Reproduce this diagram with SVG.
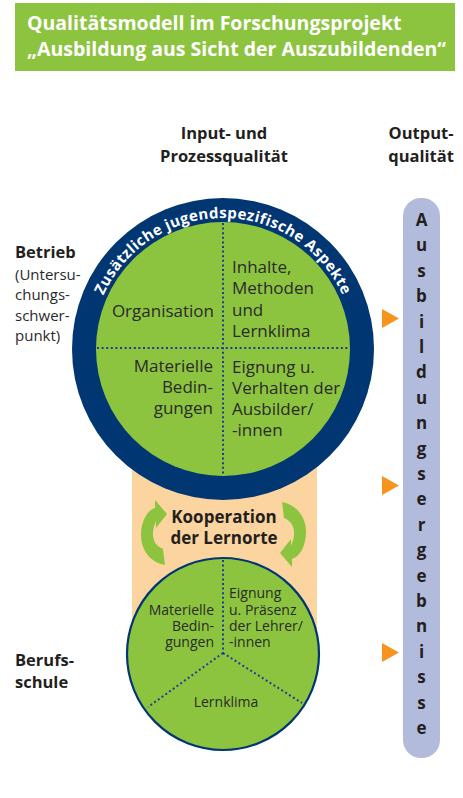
<svg xmlns="http://www.w3.org/2000/svg" width="463" height="798" viewBox="0 0 463 798">
<style>
.t{font-family:"Open Sans","Noto Sans","Liberation Sans",sans-serif;fill:#2a2a2a}
.b{font-weight:bold;fill:#231f20}
.big{font-size:17px}
.sm{font-size:14px}
.dot{stroke:#1d3f8f;stroke-width:2;stroke-dasharray:2 2.6;fill:none}
.grn{fill:#8cc43f}
.nav{fill:#003672}
.out{font-family:"Open Sans","Noto Sans","Liberation Sans",sans-serif;font-weight:bold;font-size:17px;fill:#231f20;text-anchor:middle}
.tri{fill:#f7941d}
</style>
<defs>
<path id="arcTxt" d="M 104.3 293.6 A 131 131 0 0 1 341.7 293.6"/>
</defs>

<g id="title">
<rect x="15" y="3" width="440" height="68" class="grn"/>
<text class="t b" x="27" y="30" font-size="19.5" style="fill:#ffffff">Qualitätsmodell im Forschungsprojekt</text>
<text class="t b" x="27" y="56" font-size="19.5" style="fill:#ffffff">„Ausbildung aus Sicht der Auszubildenden“</text>
</g>

<g id="headers">
<text class="t b" x="224" y="139" font-size="16.5" text-anchor="middle">Input- und</text>
<text class="t b" x="224" y="162" font-size="16.5" text-anchor="middle">Prozessqualität</text>
<text class="t b" x="421" y="139" font-size="16.5" text-anchor="middle">Output-</text>
<text class="t b" x="421" y="162" font-size="16.5" text-anchor="middle">qualität</text>
</g>

<g id="labels-left">
<text class="t b" x="15" y="258" font-size="16.5">Betrieb</text>
<text class="t" x="15" y="280" font-size="15">(Untersu-</text>
<text class="t" x="15" y="300" font-size="15">chungs-</text>
<text class="t" x="15" y="321" font-size="15">schwer-</text>
<text class="t" x="15" y="341" font-size="15">punkt)</text>
<text class="t b" x="15" y="666" font-size="16.5">Berufs-</text>
<text class="t b" x="15" y="688" font-size="16.5">schule</text>
</g>

<g id="kooperation">
<rect x="132" y="440" width="185" height="200" fill="#fcd49f"/>
<text class="t b" x="224" y="523" font-size="17" text-anchor="middle">Kooperation</text>
<text class="t b" x="224" y="544" font-size="17" text-anchor="middle">der Lernorte</text>
<path id="arrow-left" class="grn" d="M 167 514 L 155 500 L 155 508 C 147 510 141 522 141 535 C 141 550 150 562 165 565 L 163 549 C 153 545 150 535 156 521 L 156 528 Z"/>
<path id="arrow-right" class="grn" transform="rotate(180 223.5 533.5)" d="M 167 514 L 155 500 L 155 508 C 147 510 141 522 141 535 C 141 550 150 562 165 565 L 163 549 C 153 545 150 535 156 521 L 156 528 Z"/>
</g>

<g id="betrieb">
<circle cx="223" cy="349" r="151" class="nav"/>
<circle cx="223" cy="349" r="127" class="grn"/>
<text font-family="'Open Sans','Noto Sans','Liberation Sans',sans-serif" font-weight="bold" font-size="15" letter-spacing="0.4" fill="#ffffff"><textPath href="#arcTxt" startOffset="50%" text-anchor="middle">Zusätzliche jugendspezifische Aspekte</textPath></text>
<line class="dot" x1="223" y1="223" x2="223" y2="476"/>
<line class="dot" x1="97" y1="348" x2="349" y2="348"/>
<text class="t big" x="214" y="317" text-anchor="end">Organisation</text>
<text class="t big" x="232" y="273">Inhalte,</text>
<text class="t big" x="232" y="294">Methoden</text>
<text class="t big" x="232" y="316">und</text>
<text class="t big" x="232" y="337">Lernklima</text>
<text class="t big" x="213" y="372" text-anchor="end">Materielle</text>
<text class="t big" x="213" y="393" text-anchor="end">Bedin-</text>
<text class="t big" x="213" y="414" text-anchor="end">gungen</text>
<text class="t big" x="232" y="373">Eignung u.</text>
<text class="t big" x="232" y="394">Verhalten der</text>
<text class="t big" x="232" y="415">Ausbilder/</text>
<text class="t big" x="232" y="436">-innen</text>
</g>

<g id="berufsschule">
<circle cx="223" cy="654" r="96" class="grn" stroke="#003672" stroke-width="2.2"/>
<path class="dot" d="M 223 560 L 223 653 M 223 653 L 148 707 M 223 653 L 302 703"/>
<text class="t sm" x="214" y="615" text-anchor="end">Materielle</text>
<text class="t sm" x="214" y="631" text-anchor="end">Bedin-</text>
<text class="t sm" x="214" y="647" text-anchor="end">gungen</text>
<text class="t sm" x="229" y="598">Eignung</text>
<text class="t sm" x="229" y="615">u. Präsenz</text>
<text class="t sm" x="229" y="631">der Lehrer/</text>
<text class="t sm" x="229" y="647">-innen</text>
<text class="t sm" x="226" y="707" text-anchor="middle">Lernklima</text>
</g>

<g id="output">
<rect x="403" y="198" width="37" height="560" rx="18" fill="#b3bbdc"/>
<text class="out" x="421.5" y="226">A</text>
<text class="out" x="421.5" y="251.4">u</text>
<text class="out" x="421.5" y="276.8">s</text>
<text class="out" x="421.5" y="302.2">b</text>
<text class="out" x="421.5" y="327.6">i</text>
<text class="out" x="421.5" y="353">l</text>
<text class="out" x="421.5" y="378.4">d</text>
<text class="out" x="421.5" y="403.8">u</text>
<text class="out" x="421.5" y="429.2">n</text>
<text class="out" x="421.5" y="454.6">g</text>
<text class="out" x="421.5" y="480">s</text>
<text class="out" x="421.5" y="505.4">e</text>
<text class="out" x="421.5" y="530.8">r</text>
<text class="out" x="421.5" y="556.2">g</text>
<text class="out" x="421.5" y="581.6">e</text>
<text class="out" x="421.5" y="607">b</text>
<text class="out" x="421.5" y="632.4">n</text>
<text class="out" x="421.5" y="657.8">i</text>
<text class="out" x="421.5" y="683.2">s</text>
<text class="out" x="421.5" y="708.6">s</text>
<text class="out" x="421.5" y="734">e</text>
</g>

<g id="connectors">
<polygon class="tri" points="382,309 399,318.5 382,328"/>
<polygon class="tri" points="382,476 399,485.5 382,495"/>
<polygon class="tri" points="382,643 399,652.5 382,662"/>
</g>
</svg>
